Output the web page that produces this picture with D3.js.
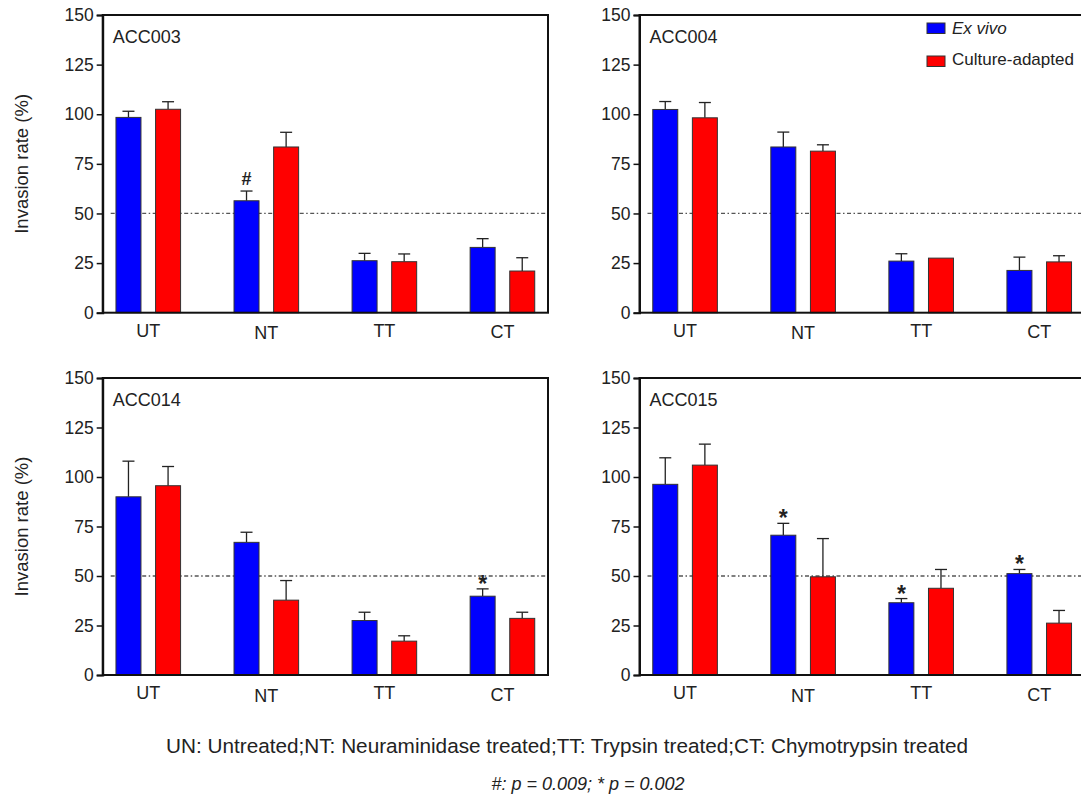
<!DOCTYPE html>
<html>
<head>
<meta charset="utf-8">
<script src="https://cdn.jsdelivr.net/npm/d3@7"></script>
<style>
  html, body { margin: 0; padding: 0; background: #fff; }
  svg { display: block; }
  text { font-family: "Liberation Sans", Arial, Helvetica, sans-serif; fill: #222; }
</style>
</head>
<body>
<svg id="chart" width="1081" height="796"></svg>
<script>
// Treatment groups along each x axis
const categories = ["UT", "NT", "TT", "CT"];
const seriesNames = ["Ex vivo", "Culture-adapted"];
const seriesColors = ["#0000ff", "#ff0000"];
const yTicks = [0, 25, 50, 75, 100, 125, 150];

// Isolates, one panel each
const isolates = ["ACC003", "ACC004", "ACC014", "ACC015"];

// Mean invasion rate (%) per isolate, ordered UT, NT, TT, CT
const exVivo = [
  [98.4, 56.4, 26.2, 32.9],
  [102.4, 83.5, 26.0, 21.3],
  [90.0, 67.0, 27.5, 39.8],
  [96.3, 70.6, 36.5, 51.2]
];
const exVivoErr = [
  [3.1, 4.9, 3.7, 4.4],
  [4.0, 7.5, 3.7, 6.7],
  [18.0, 5.1, 4.2, 3.7],
  [13.4, 6.0, 2.1, 2.1]
];
const cultureAdapted = [
  [102.5, 83.5, 25.7, 21.0],
  [98.2, 81.4, 27.5, 25.6],
  [95.6, 37.8, 17.1, 28.6],
  [106.0, 49.6, 43.8, 26.2]
];
const cultureAdaptedErr = [
  [3.8, 7.4, 3.9, 6.7],
  [7.7, 3.2, 0, 3.1],
  [9.7, 9.9, 2.7, 3.1],
  [10.6, 19.3, 9.5, 6.4]
];

// Significance marks on the Ex vivo bars ("" = none)
const exVivoMarks = [
  ["", "#", "", ""],
  ["", "", "", ""],
  ["", "", "", "*"],
  ["", "*", "*", "*"]
];

const reference = 50;
const yTitle = "Invasion rate (%)";
const footnote = "UN: Untreated;NT: Neuraminidase treated;TT: Trypsin treated;CT: Chymotrypsin treated";
const pValues = "#: p = 0.009; * p = 0.002";

// ---- layout ----
const svg = d3.select("#chart");
svg.append("rect").attr("width", 1081).attr("height", 796).attr("fill", "#fff");

const colX = [102.7, 639.5];
const rowY = [[15, 312.7], [378, 675]];
const plotW = 445.3;

isolates.forEach((name, i) => {
  const col = i % 2, row = Math.floor(i / 2);
  const x0 = colX[col];
  const [top, bottom] = rowY[row];

  const g = svg.append("g");

  const y = d3.scaleLinear().domain([0, 150]).range([bottom, top]);
  const x = d3.scalePoint().domain(categories).range([x0, x0 + plotW]).padding(0.386);
  const step = x.step();
  const xs = d3.scaleBand().domain(seriesNames)
    .range([-0.2736 * step, 0.2736 * step]).paddingInner(0.369);

  // dash-dot 50% reference line
  g.append("line")
    .attr("x1", x0 + 8).attr("x2", x0 + plotW)
    .attr("y1", y(reference)).attr("y2", y(reference))
    .attr("stroke", "#555").attr("stroke-width", 1.3)
    .attr("stroke-dasharray", "4 2.5 1.5 2.5");

  const series = [
    { name: seriesNames[0], vals: exVivo[i], errs: exVivoErr[i], color: seriesColors[0] },
    { name: seriesNames[1], vals: cultureAdapted[i], errs: cultureAdaptedErr[i], color: seriesColors[1] }
  ];

  series.forEach(s => {
    const sg = g.append("g");
    const cx = c => x(c) + xs(s.name) + xs.bandwidth() / 2;

    // error whiskers (upper only)
    categories.forEach((c, k) => {
      if (!s.errs[k]) return;
      const yt = y(s.vals[k] + s.errs[k]);
      sg.append("line").attr("x1", cx(c)).attr("x2", cx(c))
        .attr("y1", y(s.vals[k])).attr("y2", yt)
        .attr("stroke", "#222").attr("stroke-width", 1.3);
      sg.append("line").attr("x1", cx(c) - 6).attr("x2", cx(c) + 6)
        .attr("y1", yt).attr("y2", yt)
        .attr("stroke", "#222").attr("stroke-width", 1.3);
    });

    sg.selectAll("rect").data(categories).join("rect")
      .attr("x", c => x(c) + xs(s.name))
      .attr("width", xs.bandwidth())
      .attr("y", (c, k) => y(s.vals[k]))
      .attr("height", (c, k) => y(0) - y(s.vals[k]))
      .attr("fill", s.color)
      .attr("stroke", "#333").attr("stroke-width", 1);
  });

  // significance marks
  categories.forEach((c, k) => {
    const m = exVivoMarks[i][k];
    if (!m) return;
    const cx = x(c) + xs(seriesNames[0]) + xs.bandwidth() / 2;
    const yt = y(exVivo[i][k] + exVivoErr[i][k]);
    g.append("text")
      .attr("x", cx)
      .attr("y", m === "#" ? yt - 6 : yt + 3)
      .attr("text-anchor", "middle")
      .attr("font-weight", "bold")
      .attr("font-size", m === "#" ? 18 : 23)
      .text(m);
  });

  // frame
  g.append("rect")
    .attr("x", x0).attr("y", top)
    .attr("width", plotW).attr("height", bottom - top)
    .attr("fill", "none").attr("stroke", "#111").attr("stroke-width", 2);

  // y axis
  const ya = g.append("g").attr("transform", `translate(${x0},0)`)
    .call(d3.axisLeft(y).tickValues(yTicks).tickSize(6).tickPadding(3));
  ya.select(".domain").attr("stroke", "#111").attr("stroke-width", 2);
  ya.selectAll(".tick line").attr("stroke", "#111").attr("stroke-width", 1.5);
  ya.selectAll(".tick text").attr("font-size", 17.5).attr("fill", "#222")
    .style("font-family", '"Liberation Sans", Arial, sans-serif');

  // category labels
  const jitter = [0, 2.6, 0, 1.6];
  g.selectAll("text.cat").data(categories).join("text")
    .attr("class", "cat")
    .attr("x", c => x(c))
    .attr("y", (c, k) => bottom + 24 + jitter[k])
    .attr("text-anchor", "middle")
    .attr("font-size", 18)
    .text(c => c);

  // isolate label
  g.append("text")
    .attr("x", x0 + 10).attr("y", top + 28)
    .attr("font-size", 18)
    .text(name);

  // y title on the left column
  if (col === 0) {
    g.append("text")
      .attr("transform", `translate(28,${(top + bottom) / 2}) rotate(-90)`)
      .attr("text-anchor", "middle")
      .attr("font-size", 18.5)
      .text(yTitle);
  }

  // legend in the ACC004 panel
  if (i === 1) {
    const lg = g.append("g");
    seriesNames.forEach((sn, k) => {
      lg.append("rect")
        .attr("x", 927).attr("y", 23 + k * 33)
        .attr("width", 18).attr("height", 10.5)
        .attr("fill", seriesColors[k]).attr("stroke", "#333").attr("stroke-width", 1);
      lg.append("text")
        .attr("x", 952).attr("y", 34 + k * 30.5)
        .attr("font-size", 17)
        .attr("font-style", k === 0 ? "italic" : "normal")
        .text(sn);
    });
  }
});

// footnotes
svg.append("text")
  .attr("x", 567).attr("y", 753)
  .attr("text-anchor", "middle")
  .attr("font-size", 20.5)
  .attr("textLength", 802)
  .attr("lengthAdjust", "spacingAndGlyphs")
  .text(footnote);

svg.append("text")
  .attr("x", 588).attr("y", 790)
  .attr("text-anchor", "middle")
  .attr("font-size", 18)
  .attr("font-style", "italic")
  .text(pValues);
</script>
</body>
</html>
